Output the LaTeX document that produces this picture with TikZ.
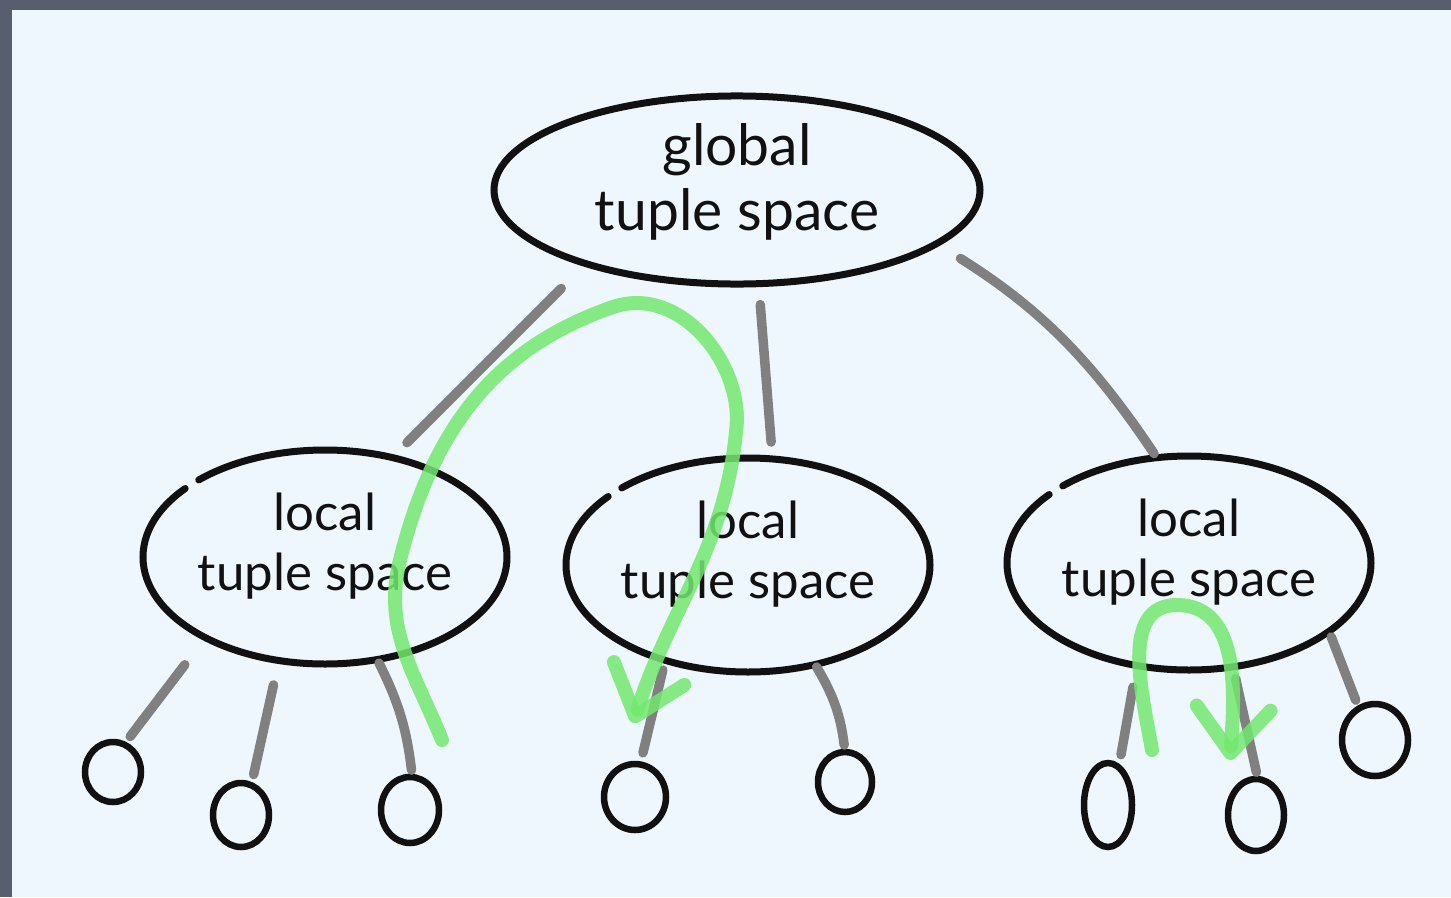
\documentclass[tikz,border=0pt]{standalone}
\usepackage{fontspec}
\setmainfont{Lato}
\usepackage{tikz}
\usetikzlibrary{shapes.geometric, arrows.meta}
\definecolor{frame}{RGB}{88,94,110}
\definecolor{paper}{RGB}{239,247,254}
\definecolor{ink}{RGB}{17,17,17}
\definecolor{stemgray}{RGB}{128,128,128}
\definecolor{flowgreen}{RGB}{115,232,111}
\tikzset{
  tuplespace/.style={ellipse, draw=ink, line width=7pt, inner sep=0pt, outer sep=0pt,
    align=center, text=ink, line cap=round},
  localspace/.style={tuplespace, minimum width=364pt, minimum height=214pt,
    font=\fontsize{51}{60}\selectfont, text depth=30pt,
    dash pattern=on 362pt off 16pt on 2000pt off 0pt},
  leaf/.style={ellipse, draw=ink, line width=6.5pt, inner sep=0pt, outer sep=0pt},
  stem/.style={draw=stemgray, line width=9.5pt, line cap=round},
  flow/.style={draw=flowgreen, line width=14pt, line cap=round, opacity=0.85,
    -{Straight Barb[round, length=45pt, width=74pt]}}
}

\begin{document}
\begin{tikzpicture}[x=1pt, y=-1pt]
  % Frame and paper
  \fill[frame] (0,0) rectangle (1451,897);
  \fill[paper] (12,10) rectangle (1451,897);
  \useasboundingbox (0,0) rectangle (1451,897);

  % Global tuple space (Top)
  \node[tuplespace, minimum width=486pt, minimum height=186pt, text depth=26pt,
    font=\fontsize{57}{65}\selectfont] (glob) at (737,190) {global\\tuple space};

  % Local tuple spaces (Middle)
  \node[localspace] (loc1) at (325,557) {local\\tuple space};
  \node[localspace] (loc2) at (748,565) {local\\tuple space};
  \node[localspace] (loc3) at (1189,563) {local\\tuple space};

  % Leaves (Bottom)
  \node[leaf, minimum width=56pt, minimum height=60pt] (lfa) at (113,772) {};
  \node[leaf, minimum width=56pt, minimum height=64pt] (lfb) at (241,815) {};
  \node[leaf, minimum width=58pt, minimum height=66pt] (lfc) at (410,810) {};
  \node[leaf, minimum width=62pt, minimum height=66pt] (lfd) at (635,797) {};
  \node[leaf, minimum width=54pt, minimum height=60pt] (lfe) at (845,782) {};
  \node[leaf, minimum width=48pt, minimum height=84pt] (lff) at (1108,805) {};
  \node[leaf, minimum width=56pt, minimum height=72pt] (lfg) at (1256,815) {};
  \node[leaf, minimum width=66pt, minimum height=72pt] (lfh) at (1375,740) {};

  % Stems from the global space
  \draw[stem, shorten <=35pt, shorten >=21pt] (glob.206) -- (loc1.56);
  \draw[stem, shorten <=21pt, shorten >=17pt] (glob.283) -- (loc2.77);
  \draw[stem, shorten <=28pt, shorten >=5pt] (glob.345) to[bend left=12] (loc3.107);

  % Stems to the leaves
  \draw[stem, shorten <=34pt, shorten >=10pt] (loc1.214) -- (lfa.68);
  \draw[stem, shorten <=25pt, shorten >=11pt] (loc1.246) -- (lfb.71);
  \draw[stem, shorten <=4pt, shorten >=7pt] (loc1.297) to[bend left=10] (lfc.86);
  \draw[stem, shorten <=10pt, shorten >=12pt] (loc2.229) -- (lfd.81);
  \draw[stem, shorten <=3pt, shorten >=7pt] (loc2.304) to[bend left=12] (lfe.90);
  \draw[stem, shorten <=22pt, shorten >=13pt] (loc3.243) -- (lff.74);
  \draw[stem, shorten <=12pt, shorten >=7pt] (loc3.293) -- (lfg.87);
  \draw[stem, shorten <=6pt, shorten >=9pt] (loc3.334) -- (lfh.117);

  % Green flows
  \draw[flow] ([shift={(32,-70)}]lfc.center) to[out=112, in=256] (400,560)
    to[out=76, in=199] (613,307) to[out=19, in=90] (737,420)
    to[out=266, in=72] ([shift={(-2,-74)}]lfd.center);
  \draw[flow] ([shift={(44,-55)}]lff.center) to[out=100, in=180] (1177,605)
    to[out=0, in=86] ([shift={(-26,-55)}]lfg.center);
\end{tikzpicture}
\end{document}
